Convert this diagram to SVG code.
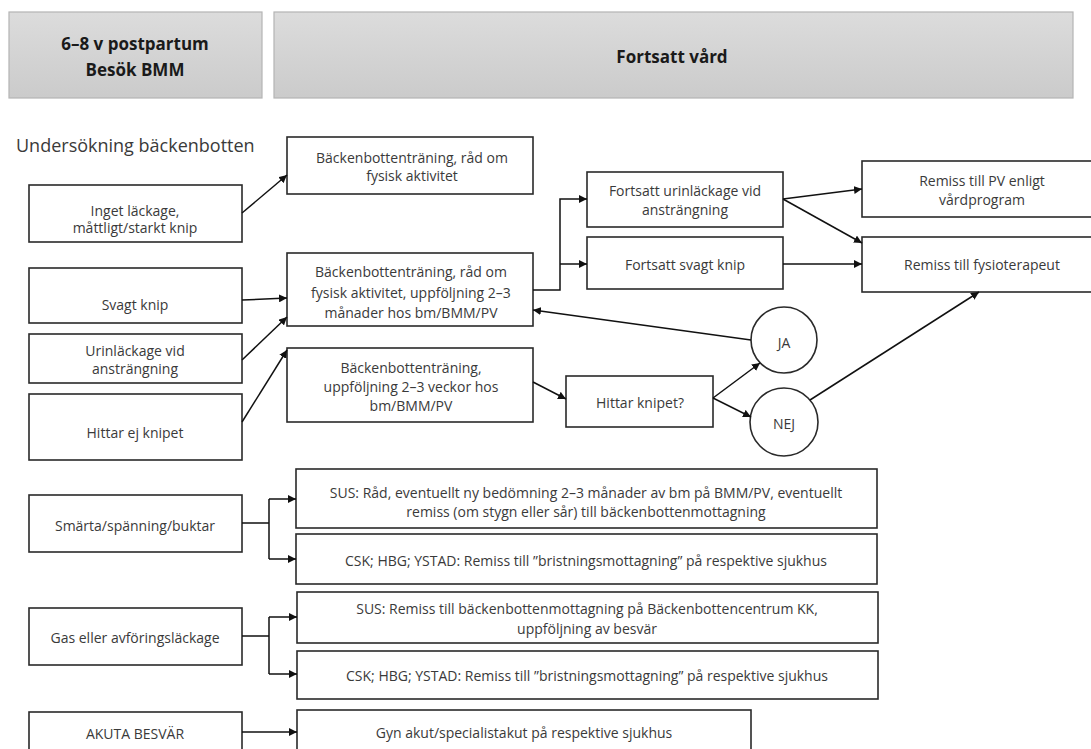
<svg xmlns="http://www.w3.org/2000/svg" width="1091" height="749" viewBox="0 0 1091 749">
<defs>
<linearGradient id="hg" x1="0" y1="0" x2="0" y2="1">
<stop offset="0" stop-color="#dcdcdc"/>
<stop offset="1" stop-color="#cbcbcb"/>
</linearGradient>
<marker id="ah" viewBox="0 0 10 10" refX="10" refY="5" markerWidth="8" markerHeight="8" markerUnits="userSpaceOnUse" orient="auto">
<path d="M0,0 L10,5 L0,10 z" fill="#111"/>
</marker>
</defs>
<style>
.hdr{fill:url(#hg);stroke:#b4b4b4;stroke-width:1.2}
.hdt{font-family:"Open Sans","Liberation Sans",sans-serif;font-size:17px;font-weight:bold;fill:#1a1a1a;text-anchor:middle}
.box{fill:#fff;stroke:#2a2a2a;stroke-width:1.6}
.t{font-family:"Open Sans","Liberation Sans",sans-serif;font-size:14px;fill:#3a3a3a;text-anchor:middle;dominant-baseline:central}
.title{font-family:"Open Sans","Liberation Sans",sans-serif;font-size:18px;fill:#3a3a3a}
.c{fill:none;stroke:#111;stroke-width:1.5}
.a{marker-end:url(#ah)}
</style>
<rect width="1091" height="749" fill="#fff"/>

<g id="header-left">
<rect class="hdr" x="9" y="12" width="253" height="86"/>
<text class="hdt" x="135" y="50">6–8 v postpartum</text>
<text class="hdt" x="135" y="76">Besök BMM</text>
</g>
<g id="header-right">
<rect class="hdr" x="274" y="12" width="799" height="86"/>
<text class="hdt" x="672" y="63">Fortsatt vård</text>
</g>

<text id="title" class="title" x="16" y="152">Undersökning bäckenbotten</text>

<g id="n-inget">
<rect class="box" x="29" y="185" width="213" height="57"/>
<text class="t" x="135" y="210">Inget läckage,</text>
<text class="t" x="135" y="227">måttligt/starkt knip</text>
</g>
<g id="n-svagt">
<rect class="box" x="29" y="268" width="213" height="55"/>
<text class="t" x="135" y="304">Svagt knip</text>
</g>
<g id="n-urin">
<rect class="box" x="29" y="334" width="213" height="49"/>
<text class="t" x="135" y="350">Urinläckage vid</text>
<text class="t" x="135" y="368">ansträngning</text>
</g>
<g id="n-hittarej">
<rect class="box" x="29" y="394" width="213" height="66"/>
<text class="t" x="135" y="432">Hittar ej knipet</text>
</g>

<g id="n-rad1">
<rect class="box" x="287" y="137" width="246" height="57"/>
<text class="t" x="412" y="157">Bäckenbottenträning, råd om</text>
<text class="t" x="412" y="175">fysisk aktivitet</text>
</g>
<g id="n-rad2">
<rect class="box" x="287" y="253" width="246" height="73"/>
<text class="t" x="411" y="271">Bäckenbottenträning, råd om</text>
<text class="t" x="411" y="292">fysisk aktivitet, uppföljning 2–3</text>
<text class="t" x="411" y="312">månader hos bm/BMM/PV</text>
</g>
<g id="n-rad3">
<rect class="box" x="287" y="348" width="246" height="74"/>
<text class="t" x="411" y="367">Bäckenbottenträning,</text>
<text class="t" x="411" y="386">uppföljning 2–3 veckor hos</text>
<text class="t" x="411" y="405">bm/BMM/PV</text>
</g>

<g id="n-hittar">
<rect class="box" x="566" y="376" width="147" height="51"/>
<text class="t" x="640" y="402">Hittar knipet?</text>
</g>
<g id="n-furin">
<rect class="box" x="587" y="172" width="196" height="55"/>
<text class="t" x="685" y="190">Fortsatt urinläckage vid</text>
<text class="t" x="685" y="209">ansträngning</text>
</g>
<g id="n-fsvagt">
<rect class="box" x="587" y="237" width="196" height="52"/>
<text class="t" x="685" y="264">Fortsatt svagt knip</text>
</g>
<g id="n-ja">
<circle class="box" cx="784" cy="340" r="33"/>
<text class="t" x="784" y="342">JA</text>
</g>
<g id="n-nej">
<circle class="box" cx="784" cy="422" r="34"/>
<text class="t" x="784" y="423">NEJ</text>
</g>
<g id="n-remisspv">
<rect class="box" x="862" y="161" width="240" height="56"/>
<text class="t" x="982" y="180">Remiss till PV enligt</text>
<text class="t" x="982" y="199">vårdprogram</text>
</g>
<g id="n-fysio">
<rect class="box" x="862" y="237" width="240" height="55"/>
<text class="t" x="982" y="264">Remiss till fysioterapeut</text>
</g>

<g id="n-smarta">
<rect class="box" x="29" y="495" width="213" height="57"/>
<text class="t" x="135" y="525">Smärta/spänning/buktar</text>
</g>
<g id="n-sus1">
<rect class="box" x="296" y="469" width="581" height="59"/>
<text class="t" x="586" y="492">SUS: Råd, eventuellt ny bedömning 2–3 månader av bm på BMM/PV, eventuellt</text>
<text class="t" x="586" y="511">remiss (om stygn eller sår) till bäckenbottenmottagning</text>
</g>
<g id="n-csk1">
<rect class="box" x="296" y="534" width="581" height="50"/>
<text class="t" x="586" y="560">CSK; HBG; YSTAD:  Remiss till ”bristningsmottagning” på respektive sjukhus</text>
</g>
<g id="n-gas">
<rect class="box" x="29" y="608" width="213" height="57"/>
<text class="t" x="135" y="637">Gas eller avföringsläckage</text>
</g>
<g id="n-sus2">
<rect class="box" x="297" y="592" width="581" height="51"/>
<text class="t" x="587" y="608">SUS: Remiss till bäckenbottenmottagning på Bäckenbottencentrum KK,</text>
<text class="t" x="587" y="628">uppföljning av besvär</text>
</g>
<g id="n-csk2">
<rect class="box" x="297" y="651" width="581" height="48"/>
<text class="t" x="587" y="675">CSK; HBG; YSTAD:  Remiss till ”bristningsmottagning” på respektive sjukhus</text>
</g>
<g id="n-akuta">
<rect class="box" x="29" y="712" width="213" height="50"/>
<text class="t" x="135" y="733">AKUTA BESVÄR</text>
</g>
<g id="n-gyn">
<rect class="box" x="297" y="710" width="454" height="52"/>
<text class="t" x="524" y="732">Gyn akut/specialistakut på respektive sjukhus</text>
</g>

<g id="connectors">
<path class="c a" d="M242,213 L287,175"/>
<path class="c a" d="M242,300 L287,298"/>
<path class="c a" d="M242,360 L287,317"/>
<path class="c a" d="M242,422 L287,350"/>
<path class="c a" d="M533,290 H560 V199 H587"/>
<path class="c a" d="M560,264 H587"/>
<path class="c a" d="M533,382 L566,399"/>
<path class="c a" d="M713,398 L760,363"/>
<path class="c a" d="M713,398 L751,417"/>
<path class="c a" d="M751,340 L533,310"/>
<path class="c a" d="M783,199 L862,189"/>
<path class="c a" d="M783,199 L862,243"/>
<path class="c a" d="M783,264 L862,264"/>
<path class="c a" d="M810,400 L979,292"/>
<path class="c" d="M242,523 H269 M269,499 V559"/>
<path class="c a" d="M269,499 H296"/>
<path class="c a" d="M269,559 H296"/>
<path class="c" d="M242,636 H269 M269,617 V674"/>
<path class="c a" d="M269,617 H297"/>
<path class="c a" d="M269,674 H297"/>
<path class="c a" d="M242,732 H297"/>
</g>
</svg>
